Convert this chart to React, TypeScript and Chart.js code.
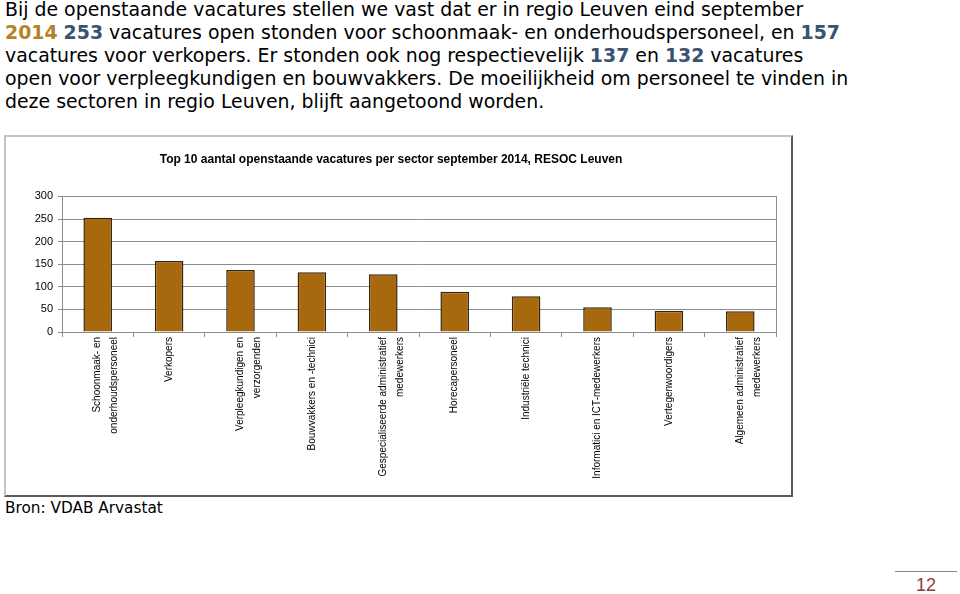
import React, { useEffect, useRef } from "react";
import { Chart, registerables } from "chart.js";

Chart.register(...registerables);

const categories: (string | string[])[] = [
  ["Schoonmaak- en", "onderhoudspersoneel"],
  "Verkopers",
  ["Verpleegkundigen en", "verzorgenden"],
  "Bouwvakkers en -technici",
  ["Gespecialiseerde administratief", "medewerkers"],
  "Horecapersoneel",
  "Industriële technici",
  "Informatici en ICT-medewerkers",
  "Vertegenwoordigers",
  ["Algemeen administratief", "medewerkers"],
];
const vacatures = [253, 157, 137, 132, 128, 89, 79, 55, 47, 46];
const yTicks = [0, 50, 100, 150, 200, 250, 300];

const chartTitle = "Top 10 aantal openstaande vacatures per sector september 2014, RESOC Leuven";

const gold = "#b5832a";
const blue = "#3b5373";

const plotBorder = {
  id: "plotBorder",
  afterDraw(chart: any) {
    const { ctx, chartArea } = chart;
    ctx.save();
    ctx.strokeStyle = "#8c8c8c";
    ctx.lineWidth = 1;
    ctx.strokeRect(
      Math.round(chartArea.left) + 0.5,
      Math.round(chartArea.top) + 0.5,
      Math.round(chartArea.right - chartArea.left),
      Math.round(chartArea.bottom - chartArea.top)
    );
    ctx.restore();
  },
};

function BarChart() {
  const ref = useRef<HTMLCanvasElement | null>(null);
  useEffect(() => {
    if (!ref.current) return;
    const chart = new Chart(ref.current, {
      type: "bar",
      data: {
        labels: categories,
        datasets: [
          {
            data: vacatures,
            backgroundColor: "#a8690e",
            borderColor: "#3a2408",
            borderWidth: 1.5,
            barPercentage: 0.8,
            categoryPercentage: 0.5,
          },
        ],
      },
      options: {
        animation: false,
        responsive: false,
        maintainAspectRatio: false,
        layout: { padding: { left: 0, right: 15, top: 0, bottom: 0 } },
        plugins: {
          legend: { display: false },
          tooltip: { enabled: false },
          title: {
            display: true,
            text: chartTitle,
            color: "#000",
            font: { family: "Liberation Sans, Arial, sans-serif", size: 12, weight: "bold" },
            padding: { top: 15, bottom: 30 },
          },
        },
        scales: {
          x: {
            offset: true,
            grid: {
              offset: true,
              drawOnChartArea: false,
              drawTicks: true,
              tickLength: 5,
              color: "#8c8c8c",
            },
            border: { display: true, color: "#8c8c8c" },
            ticks: {
              autoSkip: false,
              minRotation: 90,
              maxRotation: 90,
              padding: 0,
              color: "#000",
              font: {
                family: "'Liberation Sans Narrow', 'Arial Narrow', 'Liberation Sans', Arial, sans-serif",
                size: 10,
                lineHeight: 1.7,
              },
            },
            afterFit: (axis: any) => {
              axis.height = 163;
            },
          },
          y: {
            min: 0,
            max: 300,
            afterBuildTicks: (axis: any) => {
              axis.ticks = yTicks.map((v) => ({ value: v }));
            },
            grid: {
              color: "#8c8c8c",
              drawTicks: true,
              tickLength: 4,
            },
            border: { display: true, color: "#8c8c8c" },
            ticks: {
              padding: 5,
              color: "#000",
              font: { family: "Liberation Sans, Arial, sans-serif", size: 11 },
            },
            afterFit: (axis: any) => {
              axis.width = 56;
            },
          },
        },
      },
      plugins: [plotBorder],
    });
    return () => chart.destroy();
  }, []);
  return <canvas ref={ref} width={785} height={358} style={{ display: "block", width: 785, height: 358 }} />;
}

const textStyle: React.CSSProperties = {
  position: "absolute",
  left: 5,
  whiteSpace: "nowrap",
  fontFamily: "'DejaVu Sans', Verdana, sans-serif",
  fontSize: 18.9,
  lineHeight: "23px",
  color: "#000",
};

const B = ({ c, t }: { c: string; t: string }) => (
  <span style={{ color: c, fontWeight: "bold" }}>{t}</span>
);

export default function App() {
  return (
    <div
      style={{
        position: "absolute",
        left: 0,
        top: 0,
        width: 960,
        height: 594,
        background: "#fff",
        overflow: "hidden",
      }}
    >
      <div style={{ ...textStyle, top: -2 }}>
        Bij de openstaande vacatures stellen we vast dat er in regio Leuven eind september
      </div>
      <div style={{ ...textStyle, top: 21 }}>
        <B c={gold} t="2014" /> <B c={blue} t="253" /> vacatures open stonden voor schoonmaak- en
        onderhoudspersoneel, en <B c={blue} t="157" />
      </div>
      <div style={{ ...textStyle, top: 44 }}>
        vacatures voor verkopers. Er stonden ook nog respectievelijk <B c={blue} t="137" /> en{" "}
        <B c={blue} t="132" /> vacatures
      </div>
      <div style={{ ...textStyle, top: 67 }}>
        open voor verpleegkundigen en bouwvakkers. De moeilijkheid om personeel te vinden in
      </div>
      <div style={{ ...textStyle, top: 90 }}>
        deze sectoren in regio Leuven, blijft aangetoond worden.
      </div>

      <div
        style={{
          position: "absolute",
          left: 4,
          top: 135,
          width: 785,
          height: 358,
          borderTop: "2px solid #c4c4c4",
          borderLeft: "2px solid #c4c4c4",
          borderRight: "2px solid #5a5a5a",
          borderBottom: "2px solid #5a5a5a",
          background: "#fff",
        }}
      >
        <BarChart />
      </div>

      <div
        style={{
          position: "absolute",
          left: 5,
          top: 498,
          whiteSpace: "nowrap",
          fontFamily: "'DejaVu Sans', Verdana, sans-serif",
          fontSize: 15.3,
          lineHeight: "20px",
          color: "#000",
        }}
      >
        Bron: VDAB Arvastat
      </div>

      <div
        style={{
          position: "absolute",
          left: 895,
          top: 571,
          width: 62,
          height: 0,
          borderTop: "1px solid #8a8a8a",
        }}
      />
      <div
        style={{
          position: "absolute",
          left: 895,
          top: 574,
          width: 62,
          textAlign: "center",
          fontFamily: "Liberation Sans, Arial, sans-serif",
          fontSize: 18,
          lineHeight: "22px",
          color: "#8e3b3b",
        }}
      >
        12
      </div>
    </div>
  );
}
